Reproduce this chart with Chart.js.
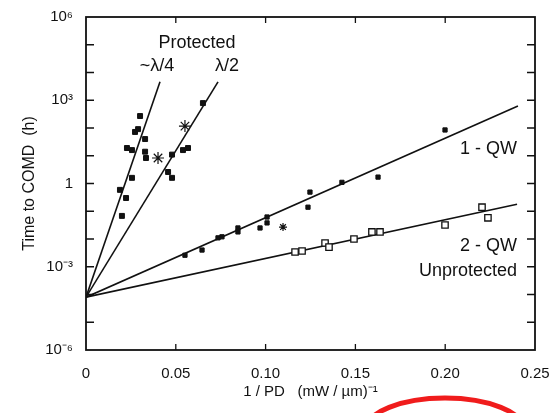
<!DOCTYPE html>
<html>
<head>
<meta charset="utf-8">
<script src="https://cdn.jsdelivr.net/npm/chart.js@4"></script>
<style>
  body { margin: 0; background: #fff; }
  #wrap { width: 550px; height: 413px; }
</style>
</head>
<body>
<div id="wrap"><canvas id="comd-chart" width="550" height="413"></canvas></div>
<script>
// fitted lines, all starting from one common point at x = 0
const fitStartX = 0;
const fitStartY = 8e-5;
const fitEndX = [0.0412, 0.0735, 0.2405, 0.240];
const fitEndY = [4600, 4600, 620, 0.18];

// protected ~lambda/4 (filled squares)
const quarterX = [0.0301, 0.0273, 0.029, 0.0329, 0.0228, 0.0256, 0.0329, 0.0334, 0.0256, 0.0189, 0.0223, 0.020];
const quarterY = [270, 72, 91, 40, 19, 16, 14, 8.3, 1.6, 0.59, 0.30, 0.068];

// protected lambda/2 (filled squares + asterisks)
const halfX = [0.0651, 0.0479, 0.054, 0.0568, 0.0457, 0.0479];
const halfY = [790, 11, 16, 19, 2.6, 1.6];
const halfStarX = [0.0551, 0.0401];
const halfStarY = [117, 8.3];

// unprotected 1-QW
const qw1X = [0.0551, 0.0646, 0.0735, 0.0757, 0.0846, 0.0846, 0.0969, 0.1008, 0.1008, 0.1247, 0.1236, 0.1425, 0.1626, 0.1999];
const qw1Y = [0.0026, 0.0040, 0.011, 0.012, 0.025, 0.018, 0.025, 0.062, 0.038, 0.49, 0.14, 1.1, 1.7, 85];
const qw1StarX = [0.1097];
const qw1StarY = [0.027];

// unprotected 2-QW (open squares)
const qw2X = [0.1164, 0.1203, 0.1331, 0.1353, 0.1492, 0.1592, 0.1637, 0.1999, 0.2205, 0.2238];
const qw2Y = [0.0034, 0.0037, 0.0072, 0.0051, 0.010, 0.018, 0.018, 0.032, 0.14, 0.058];

const yTickValues = [1e-6, 1e-3, 1, 1e3, 1e6];
const yTickLabels = ['10\u207B\u2076', '10\u207B\u00B3', '1', '10\u00B3', '10\u2076'];
const xTickValues = [0, 0.05, 0.10, 0.15, 0.20, 0.25];
const xTickLabels = ['0', '0.05', '0.10', '0.15', '0.20', '0.25'];

const FONT = "'Liberation Sans', Arial, Helvetica, sans-serif";

const pts = (xs, ys) => xs.map((x, i) => ({x: x, y: ys[i]}));

const lineSets = fitEndX.map((x, i) => ({
    data: [{x: fitStartX, y: fitStartY}, {x: x, y: fitEndY[i]}],
    showLine: true,
    borderColor: '#111',
    borderWidth: 1.6,
    pointRadius: 0,
    order: 2
}));

const filled = (xs, ys, r) => ({
    data: pts(xs, ys),
    pointStyle: 'rect',
    pointRadius: r,
    backgroundColor: '#111',
    borderColor: '#111',
    borderWidth: 1,
    order: 1
});

const stars = (xs, ys, r) => ({
    data: pts(xs, ys),
    pointStyle: 'star',
    pointRadius: r,
    backgroundColor: '#111',
    borderColor: '#111',
    borderWidth: 1.2,
    order: 1
});

const openSquares = {
    data: pts(qw2X, qw2Y),
    pointStyle: 'rect',
    pointRadius: 4.5,
    backgroundColor: '#fff',
    borderColor: '#111',
    borderWidth: 1.3,
    order: 1
};

// frame, inward ticks, text labels and the red mark
const decorations = {
    id: 'decorations',
    afterDraw(chart) {
        const ctx = chart.ctx;
        const a = chart.chartArea;
        const xs = chart.scales.x, ys = chart.scales.y;
        ctx.save();
        ctx.strokeStyle = '#111';
        ctx.lineWidth = 1.8;
        ctx.strokeRect(a.left, a.top, a.right - a.left, a.bottom - a.top);

        ctx.lineWidth = 1.3;
        ctx.beginPath();
        for (let k = -5; k <= 5; k++) {
            const py = ys.getPixelForValue(Math.pow(10, k));
            ctx.moveTo(a.left, py); ctx.lineTo(a.left + 8, py);
            ctx.moveTo(a.right, py); ctx.lineTo(a.right - 8, py);
        }
        for (let i = 1; i < xTickValues.length - 1; i++) {
            const px = xs.getPixelForValue(xTickValues[i]);
            ctx.moveTo(px, a.bottom); ctx.lineTo(px, a.bottom - 6);
            ctx.moveTo(px, a.top); ctx.lineTo(px, a.top + 6);
        }
        ctx.stroke();

        ctx.fillStyle = '#111';
        ctx.font = '18px ' + FONT;
        ctx.textBaseline = 'middle';
        ctx.textAlign = 'center';
        ctx.fillText('Protected', 197, 43);
        ctx.fillText('~\u03BB/4', 157, 66);
        ctx.fillText('\u03BB/2', 227, 66);
        ctx.textAlign = 'right';
        ctx.fillText('1 - QW', 517, 149);
        ctx.fillText('2 - QW', 517, 246);
        ctx.fillText('Unprotected', 517, 271);

        ctx.strokeStyle = '#f01c1c';
        ctx.lineWidth = 5;
        ctx.beginPath();
        ctx.ellipse(445, 430, 79, 32, 0, Math.PI, 2 * Math.PI);
        ctx.stroke();
        ctx.restore();
    }
};

new Chart(document.getElementById('comd-chart'), {
    type: 'scatter',
    data: {
        datasets: [
            ...lineSets,
            filled(quarterX, quarterY, 3.5),
            filled(halfX, halfY, 3.5),
            stars(halfStarX, halfStarY, 6),
            filled(qw1X, qw1Y, 3),
            stars(qw1StarX, qw1StarY, 4),
            openSquares
        ]
    },
    options: {
        responsive: false,
        animation: false,
        layout: {padding: {left: 14, right: 15, top: 17, bottom: 0}},
        plugins: {legend: {display: false}, tooltip: {enabled: false}},
        scales: {
            x: {
                type: 'linear',
                min: 0,
                max: 0.25,
                afterBuildTicks: (scale) => { scale.ticks = xTickValues.map(v => ({value: v})); },
                afterFit: (scale) => {
                    scale.height = 63;
                    scale.paddingRight = 0;
                    scale.paddingLeft = 0;
                },
                grid: {display: false},
                border: {display: false},
                ticks: {
                    autoSkip: false,
                    maxRotation: 0,
                    padding: 7,
                    color: '#111',
                    font: {family: FONT, size: 15},
                    callback: (v) => {
                        const i = xTickValues.findIndex(t => Math.abs(t - v) < 1e-9);
                        return i >= 0 ? xTickLabels[i] : '';
                    }
                },
                title: {
                    display: true,
                    text: '1 / PD   (mW / \u00B5m)\u207B\u00B9',
                    color: '#111',
                    font: {family: FONT, size: 15},
                    padding: {top: 0, bottom: 12}
                }
            },
            y: {
                type: 'logarithmic',
                min: 1e-6,
                max: 1e6,
                afterBuildTicks: (scale) => {
                    const t = [];
                    for (let k = -6; k <= 6; k++) t.push({value: Math.pow(10, k)});
                    scale.ticks = t;
                },
                afterFit: (scale) => { scale.width = 72; },
                grid: {display: false},
                border: {display: false},
                ticks: {
                    autoSkip: false,
                    padding: 5,
                    color: '#111',
                    font: {family: FONT, size: 15},
                    callback: (v) => {
                        const i = yTickValues.findIndex(t => Math.abs(Math.log10(t) - Math.log10(v)) < 1e-6);
                        return i >= 0 ? yTickLabels[i] : '';
                    }
                },
                title: {
                    display: true,
                    text: 'Time to COMD  (h)',
                    color: '#111',
                    font: {family: FONT, size: 16},
                    padding: {top: 6, bottom: 0}
                }
            }
        }
    },
    plugins: [decorations]
});
</script>
</body>
</html>
